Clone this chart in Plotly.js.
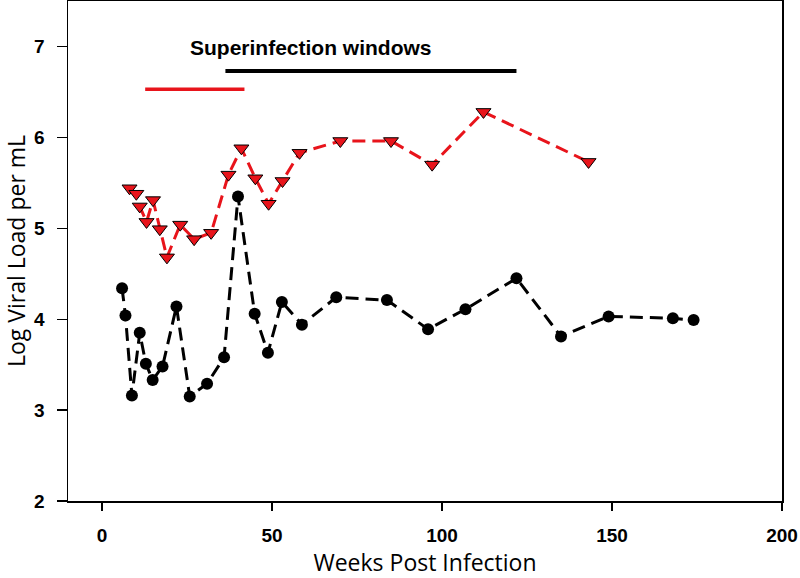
<!DOCTYPE html>
<html>
<head>
<meta charset="utf-8">
<script src="https://cdn.plot.ly/plotly-3.0.1.min.js"></script>
<style>html,body{margin:0;padding:0;background:#fff}#chart{width:800px;height:578px}</style>
</head>
<body>
<div id="chart"></div>
<script>
// Black series (circles)
var blackWeeks = [5.9, 6.9, 8.8, 11.1, 12.9, 14.9, 17.8, 21.9, 25.8, 30.9, 35.9, 40.0, 44.9, 48.8, 52.9, 58.8, 68.9, 83.8, 95.9, 106.9, 121.9, 135.0, 149.0, 167.9, 174.0];
var blackLoad  = [4.34, 4.04, 3.16, 3.85, 3.51, 3.33, 3.48, 4.14, 3.15, 3.29, 3.58, 5.35, 4.06, 3.63, 4.19, 3.94, 4.24, 4.21, 3.89, 4.11, 4.45, 3.81, 4.03, 4.01, 3.99];
// Red series (down triangles)
var redWeeks = [8.1, 10.1, 11.1, 13.1, 15.0, 17.0, 19.1, 23.0, 27.1, 32.1, 37.2, 41.0, 45.1, 49.0, 53.1, 58.1, 70.1, 85.0, 97.1, 112.2, 143.1];
var redLoad  = [5.44, 5.38, 5.24, 5.07, 5.31, 4.99, 4.68, 5.04, 4.88, 4.95, 5.59, 5.88, 5.55, 5.27, 5.52, 5.83, 5.96, 5.96, 5.70, 6.28, 5.73];
// Superinfection windows
var redWindow = [12.7, 41.9];
var redWindowLevel = 6.53;
var blackWindow = [36.3, 121.9];
var blackWindowLevel = 6.73;
var windowLabel = "Superinfection windows";
var windowLabelPos = [61.5, 6.99];
// Axis ticks
var xTicks = [0, 50, 100, 150, 200];
var yTicks = [2, 3, 4, 5, 6, 7];

var traces = [
  {x: redWindow, y: [redWindowLevel, redWindowLevel], mode: 'lines', line: {color: '#e8141b', width: 3.5}, hoverinfo: 'skip'},
  {x: blackWindow, y: [blackWindowLevel, blackWindowLevel], mode: 'lines', line: {color: '#000', width: 4}, hoverinfo: 'skip'},
  {x: redWeeks, y: redLoad, mode: 'lines+markers',
   line: {color: '#e8141b', width: 3, dash: '13px,7px'},
   marker: {symbol: 'triangle-down', size: 13, color: '#e8141b', line: {color: '#000', width: 1}}},
  {x: blackWeeks, y: blackLoad, mode: 'lines+markers',
   line: {color: '#000', width: 3, dash: '13px,7px'},
   marker: {symbol: 'circle', size: 12, color: '#000'}}
];

var layout = {
  width: 800, height: 578,
  margin: {l: 68, r: 18, t: 1, b: 77},
  paper_bgcolor: '#fff', plot_bgcolor: '#fff',
  showlegend: false,
  font: {family: 'Open Sans, Liberation Sans, sans-serif', color: '#000'},
  xaxis: {
    range: [-10, 200], tickvals: xTicks, ticks: 'outside', ticklen: 8, tickwidth: 1.2, tickcolor: '#000',
    showline: true, linecolor: '#000', linewidth: 1.5, mirror: true, showgrid: false, zeroline: false,
    ticklabelstandoff: 9,
    tickfont: {family: 'Liberation Sans, Arial, sans-serif', size: 19, weight: 'bold', color: '#000'},
    title: {text: 'Weeks Post Infection', font: {family: 'Open Sans, sans-serif', size: 23, color: '#000'}, standoff: 9}
  },
  yaxis: {
    range: [2, 7.5], tickvals: yTicks, ticks: 'outside', ticklen: 10, tickwidth: 1.2, tickcolor: '#000',
    showline: true, linecolor: '#000', linewidth: 1.5, mirror: true, showgrid: false, zeroline: false,
    ticklabelstandoff: 8,
    tickfont: {family: 'Liberation Sans, Arial, sans-serif', size: 19, weight: 'bold', color: '#000'},
    title: {text: 'Log Viral Load per mL', font: {family: 'Open Sans, sans-serif', size: 23, color: '#000'}, standoff: 10}
  },
  annotations: [{
    x: windowLabelPos[0], y: windowLabelPos[1], xref: 'x', yref: 'y', showarrow: false,
    text: windowLabel, font: {family: 'Liberation Sans, Arial, sans-serif', size: 21, weight: 'bold', color: '#000'}
  }]
};

Plotly.newPlot('chart', traces, layout, {displayModeBar: false, staticPlot: true});
</script>
</body>
</html>
